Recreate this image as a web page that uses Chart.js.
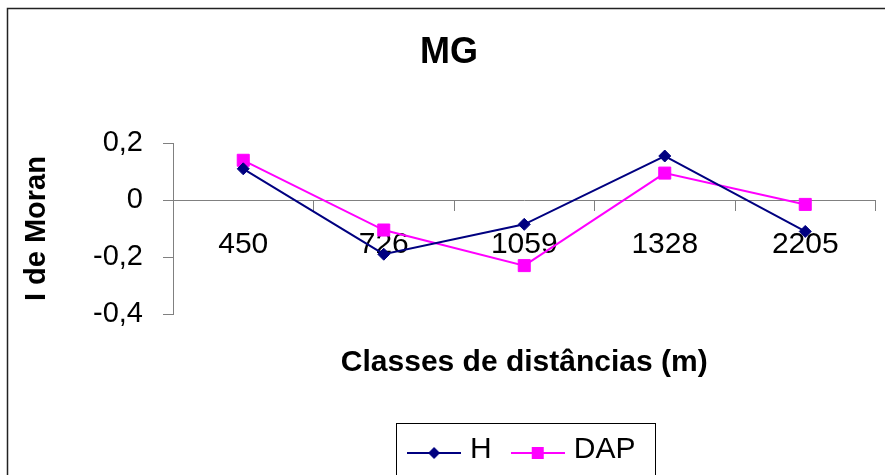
<!DOCTYPE html>
<html>
<head>
<meta charset="utf-8">
<script src="https://cdn.jsdelivr.net/npm/chart.js@4"></script>
<style>
    html, body { margin: 0; padding: 0; background: #fff; }
    #wrap { width: 885px; height: 475px; position: relative; }
</style>
</head>
<body>
<div id="wrap"><canvas id="chart"></canvas></div>
<script>
let categories = ['450', '726', '1059', '1328', '2205']
let hValues = [0.11, -0.19, -0.085, 0.155, -0.11]
let dapValues = [0.14, -0.105, -0.23, 0.095, -0.015]
let yTicks = [-0.4, -0.2, 0, 0.2]

const navy = '#000080'
const magenta = '#ff00ff'
const axisGrey = '#808080'

Chart.defaults.font.family = '"Liberation Sans", Arial, sans-serif'
Chart.defaults.color = '#000'

// little line + marker pictures for the legend, like the spreadsheet one
function legendIcon(color, shape) {
    let c = document.createElement('canvas')
    c.width = 54
    c.height = 20
    let ctx = c.getContext('2d')
    let cy = 13
    ctx.strokeStyle = color
    ctx.lineWidth = 2
    ctx.beginPath()
    ctx.moveTo(0, cy)
    ctx.lineTo(54, cy)
    ctx.stroke()
    ctx.fillStyle = color
    if (shape === 'diamond') {
        ctx.beginPath()
        ctx.moveTo(27, cy - 6)
        ctx.lineTo(33, cy)
        ctx.lineTo(27, cy + 6)
        ctx.lineTo(21, cy)
        ctx.closePath()
        ctx.fill()
    } else {
        ctx.fillRect(21, cy - 6, 12, 12)
    }
    return c
}

let legendIcons = [legendIcon(navy, 'diamond'), legendIcon(magenta, 'square')]

let framePlugin = {
    id: 'frame',
    afterDraw(chart) {
        let ctx = chart.ctx
        ctx.save()
        ctx.strokeStyle = '#222'
        ctx.lineWidth = 1.5
        ctx.strokeRect(7.5, 8.5, 1000, 1000)

        let boxes = chart.legend.legendHitBoxes
        if (boxes && boxes.length) {
            let first = boxes[0]
            let last = boxes[boxes.length - 1]
            let x1 = first.left - 17
            let x2 = last.left + last.width + 20
            let cy = first.top + first.height / 2
            ctx.strokeStyle = '#000'
            ctx.lineWidth = 1
            ctx.strokeRect(Math.round(x1) + 0.5, Math.round(cy - 27) + 0.5, Math.round(x2 - x1), 53)
        }
        ctx.restore()
    },
}

new Chart(document.getElementById('chart'), {
    type: 'line',
    data: {
        labels: categories,
        datasets: [
            {
                label: 'H',
                data: hValues,
                xAxisID: 'x',
                borderColor: navy,
                backgroundColor: navy,
                borderWidth: 2,
                pointStyle: 'rectRot',
                pointRadius: 6,
                pointBorderWidth: 1,
                tension: 0,
                clip: false,
            },
            {
                label: 'DAP',
                data: dapValues,
                xAxisID: 'x',
                borderColor: magenta,
                backgroundColor: magenta,
                borderWidth: 2,
                pointStyle: 'rect',
                pointRadius: 8.5,
                pointBorderWidth: 1,
                tension: 0,
                clip: false,
            },
        ],
    },
    options: {
        responsive: true,
        maintainAspectRatio: false,
        animation: false,
        layout: {
            padding: { left: 20, right: 7, top: 0, bottom: 0 },
        },
        plugins: {
            title: {
                display: true,
                text: 'MG',
                color: '#000',
                font: { size: 36, weight: 'bold' },
                padding: { top: 31, bottom: 69 },
            },
            legend: {
                position: 'bottom',
                fullSize: false,
                labels: {
                    color: '#000',
                    font: { size: 30 },
                    usePointStyle: true,
                    pointStyleWidth: 42,
                    padding: 25,
                    generateLabels(chart) {
                        let items = Chart.defaults.plugins.legend.labels.generateLabels(chart)
                        items.forEach((item, i) => {
                            item.pointStyle = legendIcons[i]
                        })
                        return items
                    },
                },
            },
            tooltip: { enabled: false },
        },
        scales: {
            x: {
                type: 'category',
                position: { y: 0 },
                offset: true,
                grid: {
                    offset: true,
                    drawOnChartArea: false,
                    tickLength: 10,
                    color: axisGrey,
                },
                border: { color: axisGrey },
                ticks: {
                    font: { size: 30 },
                    padding: 17,
                    maxRotation: 0,
                    autoSkip: false,
                },
            },
            x2: {
                type: 'category',
                position: 'bottom',
                labels: categories,
                grid: { display: false, drawTicks: false },
                border: { display: false },
                ticks: { display: false },
                title: {
                    display: true,
                    text: 'Classes de distâncias (m)',
                    color: '#000',
                    font: { size: 30, weight: 'bold' },
                    padding: { top: 31, bottom: 29 },
                },
            },
            y: {
                min: yTicks[0],
                max: yTicks[yTicks.length - 1],
                afterBuildTicks(scale) {
                    scale.ticks = yTicks.map((v) => ({ value: v }))
                },
                afterFit(scale) {
                    scale.width = 153
                },
                grid: {
                    drawOnChartArea: false,
                    tickLength: 10,
                    color: axisGrey,
                },
                border: { color: axisGrey },
                ticks: {
                    font: { size: 29 },
                    padding: 20,
                    callback(value) {
                        if (Math.abs(value) < 1e-9) return '0'
                        return value.toFixed(1).replace('.', ',')
                    },
                },
                title: {
                    display: true,
                    text: 'I de Moran',
                    color: '#000',
                    font: { size: 29, weight: 'bold' },
                    padding: { top: 0, bottom: 0 },
                },
            },
        },
    },
    plugins: [framePlugin],
})
</script>
</body>
</html>
